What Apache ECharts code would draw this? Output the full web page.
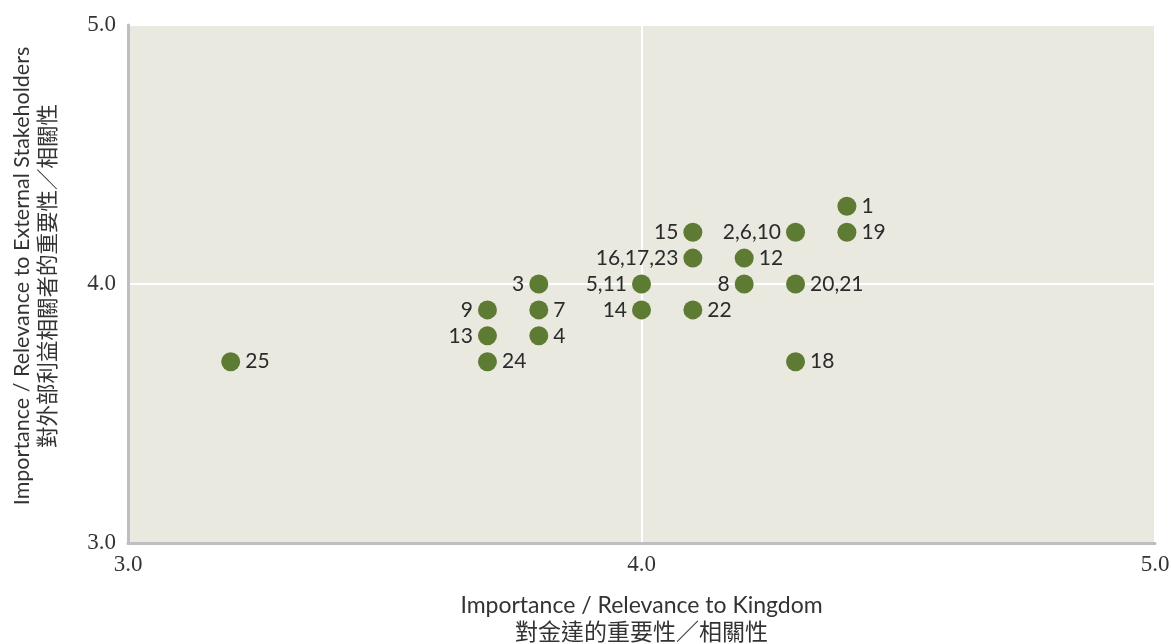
<!DOCTYPE html>
<html>
<head>
<meta charset="utf-8">
<script src="https://cdn.jsdelivr.net/npm/echarts@6/dist/echarts.min.js"></script>
<style>html,body{margin:0;padding:0;background:#fff}#c{width:1171px;height:644px}</style>
</head>
<body>
<div id="c"></div>
<script>
const pointLabels = ['1','19','2,6,10','15','16,17,23','12','8','20,21','5,11','3','14','22','9','7','13','4','24','25','18'];
const xValues = [4.4,4.4,4.3,4.1,4.1,4.2,4.2,4.3,4.0,3.8,4.0,4.1,3.7,3.8,3.7,3.8,3.7,3.2,4.3];
const yValues = [4.3,4.2,4.2,4.2,4.1,4.1,4.0,4.0,4.0,4.0,3.9,3.9,3.9,3.9,3.8,3.8,3.7,3.7,3.7];
const axisTicks = [3.0, 4.0, 5.0];
const xTitle = 'Importance / Relevance to Kingdom\n對金達的重要性／相關性';
const yTitle = 'Importance / Relevance to External Stakeholders\n對外部利益相關者的重要性／相關性';
const leftLabeled = ['2,6,10','15','16,17,23','8','5,11','3','14','9','13'];

const chart = echarts.init(document.getElementById('c'));
const sansFont = 'Lato, "Noto Sans CJK TC", sans-serif';
const serifFont = '"Liberation Serif", "DejaVu Serif", serif';

const data = pointLabels.map((n, i) => ({
  value: [xValues[i], yValues[i]],
  name: n,
  label: { position: leftLabeled.includes(n) ? 'left' : 'right' }
}));

chart.setOption({
  animation: false,
  grid: { left: 128, right: 16, top: 25, bottom: 101, show: true, backgroundColor: '#e9e9e0', borderWidth: 0, containLabel: false, outerBoundsMode: 'none' },
  xAxis: {
    type: 'value', min: axisTicks[0], max: axisTicks[axisTicks.length - 1], interval: 1,
    axisLine: { show: true, onZero: false, lineStyle: { color: '#bdbdc3', width: 3 } },
    axisTick: { show: false },
    splitLine: { show: true, lineStyle: { color: '#ffffff', width: 2 } },
    axisLabel: { color: '#333', fontFamily: serifFont, fontSize: 23, margin: 10, formatter: v => v.toFixed(1) },
    name: xTitle, nameLocation: 'middle', nameGap: 49,
    nameTextStyle: { color: '#333', fontFamily: sansFont, fontSize: 23, lineHeight: 27 }
  },
  yAxis: {
    type: 'value', min: axisTicks[0], max: axisTicks[axisTicks.length - 1], interval: 1,
    axisLine: { show: true, onZero: false, lineStyle: { color: '#bdbdc3', width: 3 } },
    axisTick: { show: false },
    splitLine: { show: true, lineStyle: { color: '#ffffff', width: 2 } },
    axisLabel: { color: '#333', fontFamily: serifFont, fontSize: 23, margin: 12, formatter: v => v.toFixed(1) },
    name: yTitle, nameLocation: 'middle', nameGap: 67, nameRotate: 90,
    nameTextStyle: { color: '#333', fontFamily: sansFont, fontSize: 21.5, lineHeight: 26, padding: [0, 0, 0, 16] }
  },
  series: [{
    type: 'scatter',
    symbolSize: 19,
    itemStyle: { color: '#5e7b34', opacity: 1 },
    label: {
      show: true, formatter: p => p.name, distance: 5,
      color: '#2b2b2b', fontFamily: sansFont, fontSize: 21
    },
    data: data
  }]
});
</script>
</body>
</html>
